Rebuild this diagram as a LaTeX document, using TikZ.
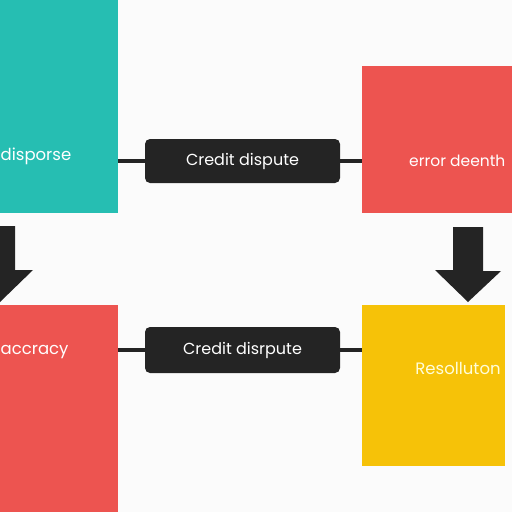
\documentclass[tikz,border=0pt]{standalone}
\usepackage{fontspec}
\setmainfont{Poppins}
\usetikzlibrary{positioning}

\definecolor{tealbox}{RGB}{38,190,178}
\definecolor{redbox}{RGB}{237,84,80}
\definecolor{yellowbox}{RGB}{246,194,8}
\definecolor{pillgray}{RGB}{36,36,36}
\definecolor{paper}{RGB}{251,251,251}

\begin{document}
\begin{tikzpicture}[x=1pt,y=-1pt,
    block/.style={fill=#1,draw=none,inner sep=0pt},
    pill/.style={fill=pillgray,rounded corners=5pt,minimum width=195pt,minimum height=44pt,
                 text=white,font=\fontsize{16}{18}\selectfont},
    blocktext/.style={text=white,font=\fontsize{16.5}{18}\selectfont,inner sep=0pt},
    link/.style={draw=pillgray,line width=3.5pt},
    bigarrow/.style={fill=pillgray}]
\useasboundingbox (0,0) rectangle (512,512);
\clip (0,0) rectangle (512,512);
\fill[paper] (0,0) rectangle (512,512);

% colour blocks
\node[block=tealbox,minimum width=138pt,minimum height=233pt](Bteal) at (49,96.5){};
\node[block=redbox,minimum width=168pt,minimum height=147pt](Berror) at (446,139.5){};
\node[block=redbox,minimum width=138pt,minimum height=225pt](Baccuracy) at (49,417.5){};
\node[block=yellowbox,minimum width=143pt,minimum height=161pt](Bresolution) at (433.5,385.5){};

% block texts
\node[blocktext,anchor=west](Tdispose) at (0.5,156){disporse};
\node[blocktext,anchor=west,font=\fontsize{15.5}{18}\selectfont](Terror) at (409,161){error deenth};
\node[blocktext,anchor=west](Taccuracy) at (0.5,352){accracy};
\node[blocktext,text=yellow!15](Tresolution) at (458,368){Resolluton};

% dispute pills
\node[pill](Ptop) at (242.5,161){Credit dispute};
\node[pill,minimum height=46pt](Pbottom) at (242.5,350){Credit disrpute};

\draw[link] (Ptop.west -| Bteal.east) -- (Ptop.west);
\draw[link] (Ptop.east) -- (Ptop.east -| Berror.west);
\draw[link] (Pbottom.west -| Baccuracy.east) -- (Pbottom.west);
\draw[link] (Pbottom.east) -- (Pbottom.east -| Bresolution.west);

% down arrows
\coordinate (AdownTop) at (0,226);
\coordinate (AdownTip) at (0,302);
\coordinate (AresolveTop) at (468,227);
\coordinate (AresolveTip) at (468,302);
\foreach \a in {Adown,Aresolve}
  \fill[bigarrow] (\a Top) ++(-15,0) -- ++(30,0) -- ++(0,44) -- ++(18,0) -- (\a Tip)
                  -- ++(-33,-32) -- ++(18,0) -- cycle;
\end{tikzpicture}
\end{document}
